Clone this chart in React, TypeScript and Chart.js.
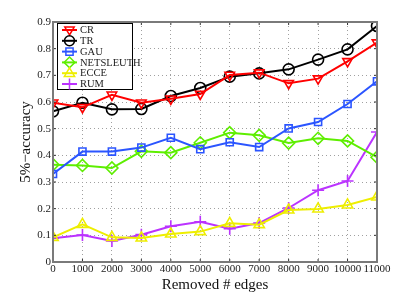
import React, { useEffect, useRef } from "react";
import { Chart, registerables } from "chart.js";

Chart.register(...registerables);

const xValues = [0, 1000, 2000, 3000, 4000, 5000, 6000, 7000, 8000, 9000, 10000, 11000];
const seriesNames = ["CR", "TR", "GAU", "NETSLEUTH", "ECCE", "RUM"];
const crValues = [0.597, 0.58, 0.627, 0.597, 0.612, 0.63, 0.701, 0.71, 0.67, 0.6875, 0.7525, 0.8225];
const trValues = [0.565, 0.597, 0.5725, 0.574, 0.6225, 0.6525, 0.695, 0.7075, 0.7225, 0.759, 0.7975, 0.885];
const gauValues = [0.33, 0.414, 0.414, 0.429, 0.466, 0.423, 0.449, 0.431, 0.501, 0.525, 0.5925, 0.6775];
const netsleuthValues = [0.365, 0.362, 0.3525, 0.415, 0.41, 0.447, 0.485, 0.475, 0.446, 0.464, 0.454, 0.393];
const ecceValues = [0.0925, 0.141, 0.0925, 0.09, 0.105, 0.114, 0.145, 0.14, 0.195, 0.199, 0.214, 0.244];
const rumValues = [0.089, 0.101, 0.079, 0.1025, 0.134, 0.151, 0.125, 0.146, 0.2025, 0.269, 0.304, 0.4875];
const yTicks = [0, 0.1, 0.2, 0.3, 0.4, 0.5, 0.6, 0.7, 0.8, 0.9];

const SERIF = "'Liberation Serif', 'DejaVu Serif', serif";

const styles = [
  { color: "#ff0000", pointStyle: "triangle", rotation: 180, radius: 5.5 },
  { color: "#000000", pointStyle: "circle", rotation: 0, radius: 5.5 },
  { color: "#2b55ff", pointStyle: "rect", rotation: 0, radius: 5 },
  { color: "#5eee00", pointStyle: "rectRot", rotation: 0, radius: 6 },
  { color: "#eeee00", pointStyle: "triangle", rotation: 0, radius: 6 },
  { color: "#bb33ff", pointStyle: "cross", rotation: 0, radius: 6 },
];

const allValues = [crValues, trValues, gauValues, netsleuthValues, ecceValues, rumValues];

function drawMarker(ctx: CanvasRenderingContext2D, style: string, x: number, y: number, r: number, rot: number, color: string) {
  ctx.save();
  ctx.strokeStyle = color;
  ctx.lineWidth = 1.5;
  ctx.translate(x, y);
  ctx.rotate((rot * Math.PI) / 180);
  ctx.beginPath();
  if (style === "circle") {
    ctx.arc(0, 0, r, 0, Math.PI * 2);
  } else if (style === "triangle") {
    ctx.moveTo(0, -r);
    ctx.lineTo(r * 0.95, r * 0.6);
    ctx.lineTo(-r * 0.95, r * 0.6);
    ctx.closePath();
  } else if (style === "rect") {
    ctx.rect(-r * 0.8, -r * 0.8, r * 1.6, r * 1.6);
  } else if (style === "rectRot") {
    ctx.moveTo(0, -r);
    ctx.lineTo(r, 0);
    ctx.lineTo(0, r);
    ctx.lineTo(-r, 0);
    ctx.closePath();
  } else if (style === "cross") {
    ctx.moveTo(0, -r);
    ctx.lineTo(0, r);
    ctx.moveTo(-r, 0);
    ctx.lineTo(r, 0);
  }
  ctx.stroke();
  ctx.restore();
}

const framePlugin = {
  id: "frame",
  afterDatasetsDraw(chart: any) {
    const { ctx, chartArea } = chart;
    const { left, right, top, bottom } = chartArea;
    ctx.save();
    ctx.strokeStyle = "#333";
    ctx.lineWidth = 1;
    const xs = chart.scales.x;
    const ys = chart.scales.y;
    xValues.forEach((v) => {
      const px = xs.getPixelForValue(v);
      ctx.beginPath();
      ctx.moveTo(px, bottom);
      ctx.lineTo(px, bottom - 3);
      ctx.moveTo(px, top);
      ctx.lineTo(px, top + 3);
      ctx.stroke();
    });
    yTicks.forEach((v) => {
      const py = ys.getPixelForValue(v);
      ctx.beginPath();
      ctx.moveTo(left, py);
      ctx.lineTo(left + 3, py);
      ctx.moveTo(right, py);
      ctx.lineTo(right - 3, py);
      ctx.stroke();
    });
    ctx.strokeStyle = "#7a7a7a";
    ctx.lineWidth = 2;
    ctx.strokeRect(left, top, right - left, bottom - top);
    ctx.restore();
  },
  afterDraw(chart: any) {
    const { ctx, chartArea } = chart;
    const bx = chartArea.left + 4;
    const by = chartArea.top + 1;
    const bw = 75;
    const bh = 66;
    ctx.save();
    ctx.fillStyle = "#ffffff";
    ctx.fillRect(bx, by, bw, bh);
    ctx.strokeStyle = "#000";
    ctx.lineWidth = 1;
    ctx.strokeRect(bx + 0.5, by + 0.5, bw, bh);
    ctx.font = `10.5px ${SERIF}`;
    ctx.textBaseline = "middle";
    ctx.textAlign = "left";
    seriesNames.forEach((name, i) => {
      const st = styles[i];
      const y = by + 7 + i * 10.8;
      ctx.strokeStyle = st.color;
      ctx.lineWidth = 2;
      ctx.beginPath();
      ctx.moveTo(bx + 5, y);
      ctx.lineTo(bx + 20, y);
      ctx.stroke();
      drawMarker(ctx, st.pointStyle, bx + 12.5, y, st.radius * 0.9, st.rotation, st.color);
      ctx.fillStyle = "#222";
      ctx.fillText(name, bx + 23, y + 0.5);
    });
    ctx.restore();
  },
};

export default function App() {
  const ref = useRef<HTMLCanvasElement>(null);
  useEffect(() => {
    document.body.style.margin = "0";
    const datasets = seriesNames.map((name, i) => ({
      label: name,
      data: xValues.map((x, j) => ({ x, y: allValues[i][j] })),
      borderColor: styles[i].color,
      backgroundColor: "rgba(0,0,0,0)",
      borderWidth: 2,
      pointStyle: styles[i].pointStyle as any,
      pointRotation: styles[i].rotation,
      pointRadius: styles[i].radius,
      pointBorderWidth: 1.6,
      pointBorderColor: styles[i].color,
      pointBackgroundColor: "rgba(0,0,0,0)",
      tension: 0,
      fill: false,
    }));
    const gridOpts = { color: "#a0a0a0", lineWidth: 1, drawTicks: false, tickLength: 0 };
    const chart = new Chart(ref.current!, {
      type: "line",
      data: { datasets },
      options: {
        animation: false,
        responsive: false,
        maintainAspectRatio: false,
        layout: { padding: { left: 0, right: 38, top: 22, bottom: 0 } },
        plugins: { legend: { display: false }, tooltip: { enabled: false } },
        scales: {
          x: {
            type: "linear",
            min: 0,
            max: 11000,
            afterFit(scale: any) {
              scale.height = 33;
            },
            afterBuildTicks(scale: any) {
              scale.ticks = xValues.map((v) => ({ value: v }));
            },
            ticks: {
              autoSkip: false,
              maxRotation: 0,
              color: "#222",
              padding: 1,
              font: { family: SERIF, size: 11 },
              callback: (v: any) => String(v),
            },
            grid: gridOpts,
            border: { display: true, color: "rgba(0,0,0,0)", dash: [1, 3] },
            title: {
              display: true,
              text: "Removed # edges",
              color: "#111",
              font: { family: SERIF, size: 15 },
              padding: { top: 0, bottom: 1 },
            },
          },
          y: {
            type: "linear",
            min: 0,
            max: 0.9,
            afterFit(scale: any) {
              scale.width = 53;
            },
            afterBuildTicks(scale: any) {
              scale.ticks = yTicks.map((v) => ({ value: v }));
            },
            ticks: {
              color: "#222",
              padding: 2,
              font: { family: SERIF, size: 11 },
              callback: (v: any) => (v === 0 ? "0" : Number(v).toFixed(1)),
            },
            grid: gridOpts,
            border: { display: true, color: "rgba(0,0,0,0)", dash: [1, 3] },
            title: {
              display: true,
              text: "5%\u2212accuracy",
              color: "#111",
              font: { family: SERIF, size: 15 },
              padding: { top: 17, bottom: 0 },
            },
          },
        },
      },
      plugins: [framePlugin],
    });
    return () => chart.destroy();
  }, []);
  return (
    <div style={{ position: "fixed", left: 0, top: 0, width: 415, height: 295, background: "#fff" }}>
      <canvas ref={ref} width={415} height={295} style={{ width: 415, height: 295 }} />
    </div>
  );
}
